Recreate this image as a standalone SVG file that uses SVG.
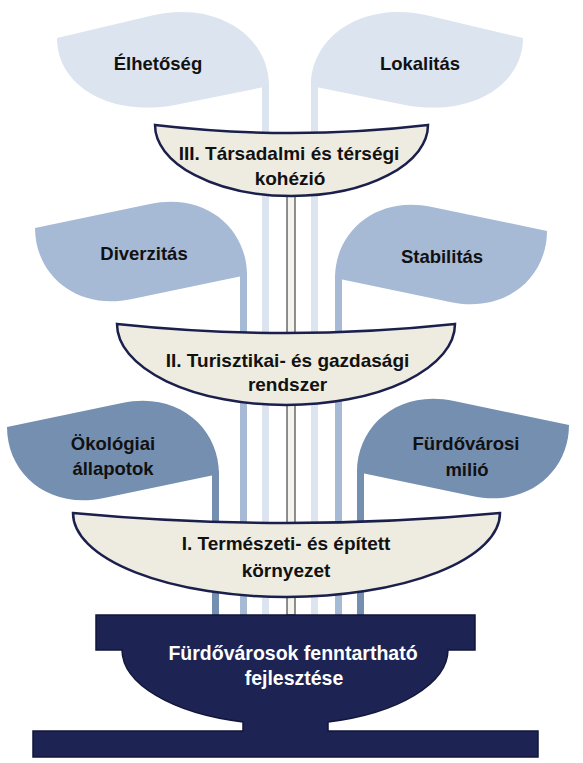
<svg xmlns="http://www.w3.org/2000/svg" width="583" height="763" viewBox="0 0 583 763">
<style>
.l1{fill:#dce4ef}
.l2{fill:#a6bad6}
.l3{fill:#758fb1}
.bowl{fill:#eeece1;stroke:#1b1f4b;stroke-width:2.5;stroke-linejoin:miter}
.t{font-family:"Liberation Sans",Arial,sans-serif;font-weight:bold;font-size:19px;fill:#111;text-anchor:middle}
.tl{font-size:18.5px}
.tw{fill:#ffffff;font-size:19.5px}
</style>
<rect width="583" height="763" fill="#ffffff"/>
<g id="connectors">
<rect class="l1" x="262" y="84" width="7" height="531"/>
<rect class="l1" x="311" y="84" width="7" height="531"/>
<rect class="l2" x="240" y="272" width="7" height="343"/>
<rect class="l2" x="335" y="275" width="7" height="340"/>
<rect class="l3" x="212" y="471" width="7" height="144"/>
<rect class="l3" x="357" y="469" width="7" height="146"/>
<rect x="287" y="190" width="8" height="425" fill="#f5f3ee" stroke="#222222" stroke-width="1"/>
</g>
<g id="elhetoseg">
<path class="l1" d="M57,38 L150,16 C215,0 269,35 269,86 L175,105 C110,117 57,86 57,38 Z"/>
<text class="t tl" x="158" y="70">Élhetőség</text>
</g>
<g id="lokalitas">
<path class="l1" d="M523,38 L430,16 C365,0 311,35 311,86 L405,105 C470,117 523,86 523,38 Z"/>
<text class="t tl" x="420" y="70">Lokalitás</text>
</g>
<g id="diverzitas">
<path class="l2" d="M35,228 L150,204 C205,192 247,228 247,275 L132,299 C77,311 35,275 35,228 Z"/>
<text class="t tl" x="144" y="260">Diverzitás</text>
</g>
<g id="stabilitas">
<path class="l2" d="M547,231 L432,207 C377,195 335,231 335,278 L450,302 C505,314 547,278 547,231 Z"/>
<text class="t tl" x="442" y="263">Stabilitás</text>
</g>
<g id="okologiai">
<path class="l3" d="M7,427 L122,403 C177,391 219,427 219,474 L104,498 C49,510 7,474 7,427 Z"/>
<text class="t tl" x="113" y="450">Ökológiai</text>
<text class="t tl" x="113" y="475">állapotok</text>
</g>
<g id="furdovarosi">
<path class="l3" d="M569,425 L454,401 C399,389 357,425 357,472 L472,496 C527,508 569,472 569,425 Z"/>
<text class="t tl" x="466" y="450">Fürdővárosi</text>
<text class="t tl" x="467" y="476">milió</text>
</g>
<g id="kohezio">
<path class="bowl" d="M155,125 Q291.5,141 428,125 A136.5 71 0 0 1 155 125 Z"/>
<text class="t" x="289" y="160">III. Társadalmi és térségi</text>
<text class="t" x="290" y="185">kohézió</text>
</g>
<g id="turisztikai">
<path class="bowl" d="M117,324 Q286,342 455,324 A169 81 0 0 1 117 324 Z"/>
<text class="t" x="287.5" y="367">II. Turisztikai- és gazdasági</text>
<text class="t" x="287.5" y="391">rendszer</text>
</g>
<g id="termeszeti">
<path class="bowl" d="M73,513 Q286.5,533 500,513 A213.5 84 0 0 1 73 513 Z"/>
<text class="t" x="286" y="550">I. Természeti- és épített</text>
<text class="t" x="286" y="577">környezet</text>
</g>
<g id="alap">
<path d="M96,615 H475 V650 H448 A163 75 0 0 1 328 722 V731 H538 V757 H33 V731 H243 V722 A163 75 0 0 1 122 650 H96 Z" fill="#1d2353" stroke="#12163a" stroke-width="1.5"/>
<text class="t tw" x="293" y="660">Fürdővárosok fenntartható</text>
<text class="t tw" x="294" y="685">fejlesztése</text>
</g>
</svg>
